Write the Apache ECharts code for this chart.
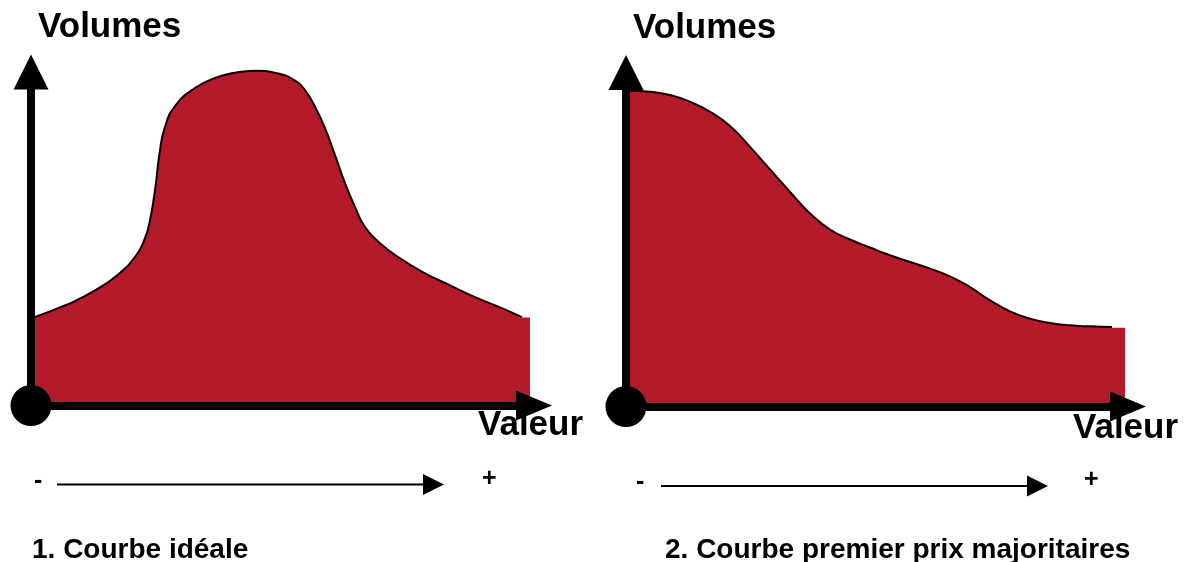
<!DOCTYPE html>
<html>
<head>
<meta charset="utf-8">
<script src="https://cdn.jsdelivr.net/npm/echarts@6/dist/echarts.min.js"></script>
<style>
html,body{margin:0;padding:0;background:#fff;}
#chart{width:1184px;height:562px;}
</style>
</head>
<body>
<div id="chart"></div>
<script>
// ---- Data (x: position 0-100 along "Valeur", y: relative volume 0-100) ----
const idealX = [0.80, 4.77, 8.75, 12.72, 16.70, 20.68, 22.66, 23.66, 24.65, 25.65, 26.64, 28.63, 32.60, 36.58, 40.56, 44.53, 49.50, 52.49, 54.47, 56.46, 58.45, 60.44, 62.43, 64.41, 66.40, 69.38, 73.36, 78.33, 83.30, 88.27, 93.24, 97.61];
const idealY = [26.52, 28.83, 31.32, 34.53, 38.53, 44.53, 50.15, 55.56, 64.56, 76.58, 83.57, 89.79, 95.20, 98.20, 99.79, 100.39, 99.40, 97.39, 94.59, 89.58, 83.18, 75.08, 66.67, 59.55, 53.54, 48.65, 44.14, 39.64, 36.04, 32.52, 29.43, 26.52];
const idealBaseX = [0.8, 99.2];
const idealBaseY = [26.4, 26.4];

const premierX = [0.80, 4.78, 8.76, 12.75, 16.73, 20.72, 24.70, 28.69, 32.67, 36.65, 40.64, 44.62, 48.61, 52.59, 56.57, 60.56, 64.54, 68.53, 72.51, 76.49, 80.48, 84.46, 88.45, 92.43, 96.81];
const premierY = [94.54, 94.24, 93.25, 91.24, 88.25, 83.96, 77.75, 70.97, 64.26, 57.78, 52.98, 49.99, 47.59, 45.28, 43.27, 41.29, 38.98, 35.77, 31.78, 28.49, 26.30, 24.98, 24.29, 23.99, 23.78];
const premierBaseX = [0.8, 99.4];
const premierBaseY = [23.6, 23.6];

const origin = [[0, 0]];

const yAxisName = 'Volumes';
const xAxisName = 'Valeur';
const minusLabel = '-';
const plusLabel = '+';
const captions = ['1. Courbe idéale', '2. Courbe premier prix majoritaires'];

// ---- Build ----
const zip = (xs, ys) => xs.map((x, i) => [x, ys[i]]);
const RED = '#B31B2B';
const FONT = '"Liberation Sans", Arial, sans-serif';

const grids = [
  {left: 31, top: 72, width: 503, height: 333.5},
  {left: 626, top: 72.5, width: 502, height: 334}
];

function xAx(i) {
  return {
    type: 'value', gridIndex: i, min: 0, max: 100, z: 10,
    axisLine: {show: true, onZero: false, symbol: ['none', 'triangle'], symbolSize: [30, 36],
      lineStyle: {color: '#000', width: 8}},
    axisTick: {show: false}, axisLabel: {show: false}, splitLine: {show: false}
  };
}
function yAx(i) {
  return {
    type: 'value', gridIndex: i, min: 0, max: 100, z: 10,
    axisLine: {show: true, onZero: false, symbol: ['none', 'triangle'], symbolSize: [35, 35],
      lineStyle: {color: '#000', width: 8}},
    axisTick: {show: false}, axisLabel: {show: false}, splitLine: {show: false}
  };
}
function curve(i, xs, ys) {
  return {
    type: 'line', xAxisIndex: i, yAxisIndex: i, data: zip(xs, ys), smooth: 0.5,
    symbol: 'none', clip: false, z: 3, silent: true,
    lineStyle: {color: '#000', width: 2},
    areaStyle: {color: RED, opacity: 1}
  };
}
function base(i, xs, ys) {
  return {
    type: 'line', xAxisIndex: i, yAxisIndex: i, data: zip(xs, ys),
    symbol: 'none', clip: false, z: 2, silent: true,
    lineStyle: {width: 0, color: RED},
    areaStyle: {color: RED, opacity: 1}
  };
}
function dot(i) {
  return {
    type: 'scatter', xAxisIndex: i, yAxisIndex: i, data: origin, symbolSize: 41,
    clip: false, z: 20, silent: true, itemStyle: {color: '#000', opacity: 1}
  };
}

function txt(x, y, text, size) {
  return {type: 'text', x: x, y: y, z: 100,
    style: {text: text, font: 'bold ' + size + 'px ' + FONT, fill: '#000', verticalAlign: 'middle', align: 'left'}};
}
function thinArrow(x1, x2, y) {
  return [
    {type: 'line', z: 100, shape: {x1: x1, y1: y, x2: x2 - 6, y2: y}, style: {stroke: '#000', lineWidth: 2}},
    {type: 'polygon', z: 100, shape: {points: [[x2 - 21, y - 10.5], [x2, y], [x2 - 21, y + 10.5]]}, style: {fill: '#000'}}
  ];
}

const graphics = [
  txt(38, 27.5, yAxisName, 35),
  txt(633, 28.5, yAxisName, 35),
  txt(478, 425.5, xAxisName, 35),
  txt(1073, 428, xAxisName, 35),
  txt(34, 481, minusLabel, 25),
  txt(482, 479, plusLabel, 25),
  txt(636, 482, minusLabel, 25),
  txt(1084, 480, plusLabel, 25),
  txt(32, 550, captions[0], 28),
  txt(665, 550, captions[1], 28)
].concat(thinArrow(57, 444, 484.5), thinArrow(661, 1048, 486));

const option = {
  backgroundColor: '#fff',
  animation: false,
  grid: grids,
  xAxis: [xAx(0), xAx(1)],
  yAxis: [yAx(0), yAx(1)],
  series: [
    base(0, idealBaseX, idealBaseY), curve(0, idealX, idealY), dot(0),
    base(1, premierBaseX, premierBaseY), curve(1, premierX, premierY), dot(1)
  ],
  graphic: graphics
};

const chart = echarts.init(document.getElementById('chart'), null, {renderer: 'canvas'});
chart.setOption(option);
</script>
</body>
</html>
